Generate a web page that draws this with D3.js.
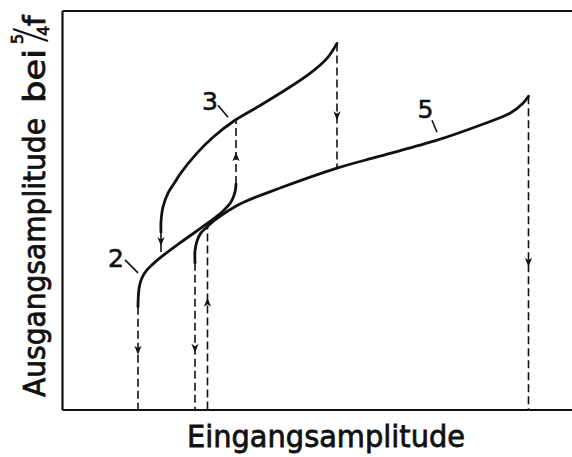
<!DOCTYPE html>
<html>
<head>
<meta charset="utf-8">
<script src="https://cdn.jsdelivr.net/npm/d3@7"></script>
<style>
  html, body { margin: 0; padding: 0; background: #fff; }
  svg { display: block; }
</style>
</head>
<body>
<script>
// Output amplitude at 5/4 f versus input amplitude, relative units (0..100 on both axes)
const curve2 = [[14.90,25.75],[14.96,28.25],[15.10,30.25],[15.39,32.0],[15.88,33.5],[16.67,35.0],
                [17.65,36.25],[19.22,38.0],[23.14,41.75],[28.63,46.75],[31.37,49.5],[33.14,52.0],
                [33.92,54.5],[34.12,56.5]];
const curve3 = [[19.41,44.5],[19.41,47.0],[19.80,50.75],[20.78,54.25],[22.16,57.0],[23.14,59.0],
                [26.47,64.25],[29.61,68.25],[33.92,72.5],[38.24,75.75],[42.75,79.25],[48.63,84.25],
                [51.96,88.0],[53.92,91.75]];
const curve5 = [[26.08,36.75],[26.08,39.75],[26.47,42.25],[27.25,44.25],[28.43,45.75],[30.00,47.5],
                [34.90,51.5],[42.75,55.5],[53.92,60.5],[62.35,63.5],[73.53,67.5],[81.96,71.25],
                [87.84,74.25],[90.39,76.75],[91.47,78.5]];

// Amplitude jumps: input amplitude, start level, end level, level of the arrow tip
const jumpX     = [14.90, 26.08, 28.53, 34.12, 19.41, 53.92, 91.47];
const jumpFrom  = [25.75, 36.75,  0.00, 56.50, 44.50, 91.75, 78.50];
const jumpTo    = [ 0.00,  0.00, 46.25, 72.50, 38.25, 60.50,  0.00];
const jumpArrow = [13.75, 14.25, 28.00, 64.50, 41.00, 72.50, 35.75];

// Curve numbers with their leader lines
const labelText = ["2", "3", "5"];
const labelAt   = [[10.59,35.75],[29.02,75.0],[71.27,73.0]];
const leaderA   = [[12.35,37.5],[30.59,76.25],[72.55,72.5]];
const leaderB   = [[14.90,34.25],[32.55,73.25],[73.53,69.5]];

const xTitle = "Eingangsamplitude";
const yTitle = "Ausgangsamplitude";
const yTitleTail = "bei";

const W = 572, H = 457;
const svg = d3.select("body").append("svg").attr("width", W).attr("height", H);

const x = d3.scaleLinear().domain([0, 100]).range([62, 572]);
const y = d3.scaleLinear().domain([0, 100]).range([409.5, 10.5]);

const ink = "#111";
const font = "'DejaVu Sans', sans-serif";

// Frame: left, top and bottom lines, no ticks
const frame = svg.append("g").attr("class", "frame");
frame.append("g").attr("transform", `translate(0,${y(0)})`)
  .call(d3.axisBottom(x).tickValues([]).tickSizeOuter(0));
frame.append("g").attr("transform", `translate(0,${y(100)})`)
  .call(d3.axisTop(x).tickValues([]).tickSizeOuter(0));
frame.append("g").attr("transform", `translate(${x(0)},0)`)
  .call(d3.axisLeft(y).tickValues([]).tickSizeOuter(0));
frame.selectAll(".domain").attr("stroke", ink).attr("stroke-width", 2.2);

// Jumps as dashed verticals with arrowheads
const jumps = jumpX.map((v, i) => ({ x: v, from: jumpFrom[i], to: jumpTo[i], tip: jumpArrow[i] }));
const jg = svg.append("g");
jg.selectAll("line").data(jumps).join("line")
  .attr("x1", d => x(d.x)).attr("x2", d => x(d.x))
  .attr("y1", d => y(d.from)).attr("y2", d => y(d.to))
  .attr("stroke", ink).attr("stroke-width", 1.6)
  .attr("stroke-dasharray", "8,4");
jg.selectAll("path").data(jumps).join("path")
  .attr("d", d => {
    const px = x(d.x), py = y(d.tip);
    const s = d.to < d.from ? -1 : 1; // -1: pointing down
    const back = py + s * 9;
    return `M${px - 3.6},${back} L${px},${py} L${px + 3.6},${back} L${px},${back - s * 2.5} Z`;
  })
  .attr("fill", ink);

// Response curves
const line = d3.line().x(d => x(d[0])).y(d => y(d[1])).curve(d3.curveCatmullRom.alpha(0.5));
svg.append("g").selectAll("path").data([curve2, curve3, curve5]).join("path")
  .attr("d", line)
  .attr("fill", "none").attr("stroke", ink).attr("stroke-width", 2.8)
  .attr("stroke-linecap", "round").attr("stroke-linejoin", "round");

// Curve numbers
const lg = svg.append("g");
lg.selectAll("text").data(labelText).join("text")
  .attr("x", (d, i) => x(labelAt[i][0])).attr("y", (d, i) => y(labelAt[i][1]))
  .attr("text-anchor", "middle")
  .attr("font-family", font).attr("font-size", 25).attr("fill", ink)
  .attr("stroke", ink).attr("stroke-width", 0.6)
  .text(d => d);
lg.selectAll("line").data(labelText).join("line")
  .attr("x1", (d, i) => x(leaderA[i][0])).attr("y1", (d, i) => y(leaderA[i][1]))
  .attr("x2", (d, i) => x(leaderB[i][0])).attr("y2", (d, i) => y(leaderB[i][1]))
  .attr("stroke", ink).attr("stroke-width", 1.6);

// Axis titles
svg.append("text")
  .attr("x", 187).attr("y", 447)
  .attr("font-family", font).attr("font-size", 30).attr("fill", ink)
  .attr("stroke", ink).attr("stroke-width", 0.8)
  .attr("textLength", 278).attr("lengthAdjust", "spacingAndGlyphs")
  .text(xTitle);

const yt = svg.append("g").attr("transform", "translate(45,397) rotate(-90)")
  .attr("font-family", font).attr("fill", ink).attr("stroke", ink).attr("stroke-width", 0.8);
yt.append("text").attr("x", 0).attr("y", 0).attr("font-size", 30)
  .attr("textLength", 279).attr("lengthAdjust", "spacingAndGlyphs")
  .text(yTitle);
yt.append("text").attr("x", 294).attr("y", 0).attr("font-size", 30)
  .attr("textLength", 54).attr("lengthAdjust", "spacingAndGlyphs")
  .text(yTitleTail);
yt.append("text").attr("x", 353).attr("y", -22).attr("font-size", 16).text("5");
yt.append("line").attr("x1", 356).attr("y1", 3).attr("x2", 368).attr("y2", -32)
  .attr("stroke-width", 2);
yt.append("text").attr("x", 361).attr("y", 4).attr("font-size", 16).text("4");
yt.append("text").attr("x", 371).attr("y", 0).attr("font-size", 30).text("f");
</script>
</body>
</html>
